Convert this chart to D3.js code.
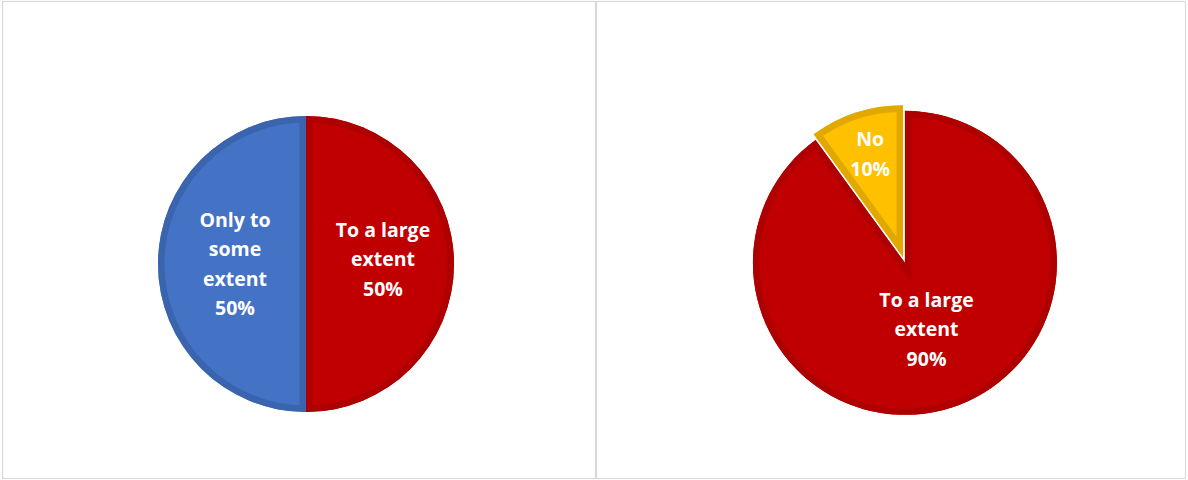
<!DOCTYPE html>
<html><head><meta charset="utf-8">
<script src="https://cdn.jsdelivr.net/npm/d3@7"></script>
<style>html,body{margin:0;padding:0;background:#fff;}svg{display:block;}</style>
</head><body>
<svg id="c" width="1188" height="480"></svg>
<script>
// Data
const leftCategories = ["To a large extent", "Only to some extent"];
const leftValues = [50, 50];
const leftLabelLines = [["To a large", "extent", "50%"], ["Only to", "some", "extent", "50%"]];
const rightCategories = ["To a large extent", "No"];
const rightValues = [90, 10];
const rightLabelLines = [["To a large", "extent", "90%"], ["No", "10%"]];

const fills = {"To a large extent": "#C00000", "Only to some extent": "#4472C4", "No": "#FFC000"};
const strokes = {"To a large extent": "#AE0000", "Only to some extent": "#3B64AE", "No": "#E0A800"};

const svg = d3.select("#c");

// panel frames
svg.append("rect").attr("x", 2.5).attr("y", 1.5).attr("width", 593).attr("height", 477)
  .attr("fill", "none").attr("stroke", "#d9d9d9").attr("stroke-width", 1.2);
svg.append("rect").attr("x", 596.5).attr("y", 1.5).attr("width", 589).attr("height", 477)
  .attr("fill", "none").attr("stroke", "#d9d9d9").attr("stroke-width", 1.2);

const pie = d3.pie().sort(null).value(d => d.v);
let clipId = 0;

function drawPie(cx, cy, r, cats, vals, lines, explode, labelFrac, labelShiftY) {
  const data = cats.map((c, i) => ({c, v: vals[i], lines: lines[i], lf: labelFrac[i], sy: labelShiftY[i]}));
  const arcs = pie(data);
  const arc = d3.arc().innerRadius(0).outerRadius(r);
  const g = svg.append("g").attr("transform", `translate(${cx},${cy})`);
  arcs.forEach(a => {
    const mid = (a.startAngle + a.endAngle) / 2;
    const dx = explode * Math.sin(mid), dy = -explode * Math.cos(mid);
    const sg = g.append("g").attr("transform", `translate(${dx},${dy})`);
    const id = "clip" + (clipId++);
    sg.append("clipPath").attr("id", id).append("path").attr("d", arc(a));
    sg.append("path").attr("d", arc(a)).attr("fill", fills[a.data.c]);
    sg.append("path").attr("d", arc(a)).attr("fill", "none")
      .attr("stroke", strokes[a.data.c]).attr("stroke-width", 13)
      .attr("stroke-linejoin", "miter")
      .attr("clip-path", `url(#${id})`);
    const lr = r * a.data.lf;
    const lx = lr * Math.sin(mid), ly = -lr * Math.cos(mid) + a.data.sy;
    const lh = 29.5;
    const n = a.data.lines.length;
    const t = sg.append("text").attr("text-anchor", "middle")
      .attr("font-family", "'Open Sans', Lato, sans-serif").attr("font-weight", "bold")
      .attr("font-size", 19.5).attr("fill", "#fff");
    a.data.lines.forEach((ln, i) => {
      t.append("tspan").attr("x", lx).attr("y", ly + (i - (n - 1) / 2) * lh + 7).text(ln);
    });
  });
}

drawPie(306, 264, 148, leftCategories, leftValues, leftLabelLines, 0, [0.52, 0.48], [-5, 0]);
drawPie(904, 260, 152, rightCategories, rightValues, rightLabelLines, 3, [0.46, 0.70], [0, -2]);
</script>
</body></html>
